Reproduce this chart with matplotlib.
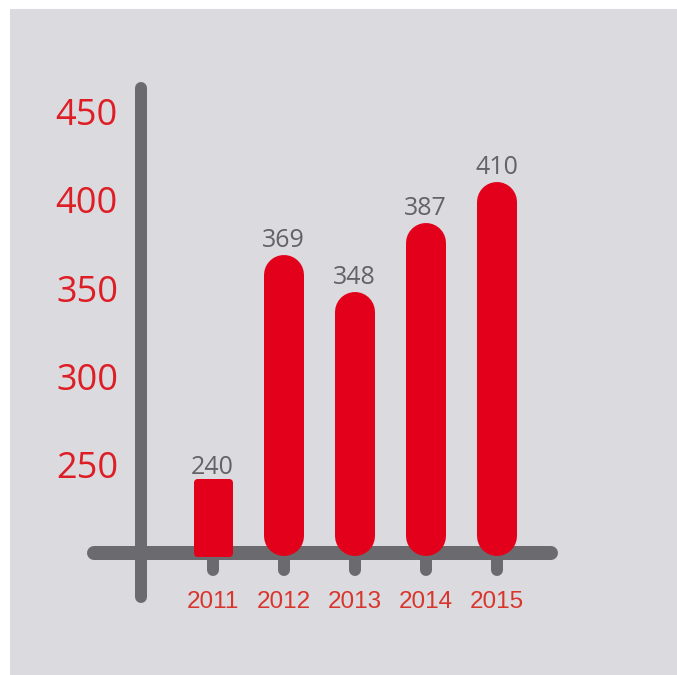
import matplotlib.pyplot as plt
from matplotlib.patches import Rectangle

years = ["2011", "2012", "2013", "2014", "2015"]
values = [240, 369, 348, 387, 410]
y_ticks = [250, 300, 350, 400, 450]
baseline = 200

RED = "#E2001A"
LABEL_RED = "#DD1E24"
YEAR_RED = "#D8352C"
GRAY = "#6B6B6F"
VALUE_GRAY = "#626267"
BG = "#DBDADF"

DPI = 100
fig = plt.figure(figsize=(6.77, 6.75), dpi=DPI, facecolor="white")

# gray panel behind everything (white strip on top and left only)
fig.patches.append(Rectangle((10 / 677, 0), 667 / 677, 666 / 675,
                             transform=fig.transFigure, facecolor=BG,
                             edgecolor="none", zorder=-10))

# axes box = extent of the vertical axis bar (pixels 141..570 x, 82..603 y)
ax = fig.add_axes([141 / 677, (675 - 603) / 675, 429 / 677, 521 / 675])
ax.set_facecolor("none")
px_per_unit = 88.25 / 50
ax.set_ylim(baseline - 50 / px_per_unit, 400 + 118 / px_per_unit)
ax.set_xlim((141 - 212.5) / 71, (570 - 212.5) / 71)

for s in ["top", "right", "left"]:
    ax.spines[s].set_visible(False)
ax.spines["bottom"].set_position(("data", baseline))
ax.spines["bottom"].set_visible(False)

pt = 72 / DPI  # points per pixel

# vertical axis bar
ax.plot([0, 0], [6 / 521, 1 - 6 / 521], transform=ax.transAxes, color=GRAY,
        lw=12 * pt, solid_capstyle="round", clip_on=False, zorder=2)
# horizontal axis bar
ax.plot([(94 - 141) / 429, (551 - 141) / 429], [baseline, baseline],
        transform=ax.get_yaxis_transform(), color=GRAY, lw=14 * pt,
        solid_capstyle="round", clip_on=False, zorder=2)

x = list(range(len(years)))

# little rounded stubs under the axis at each year
for i in x:
    ax.plot([i, i], [baseline, baseline - 17 / px_per_unit], color=GRAY,
            lw=12 * pt, solid_capstyle="round", zorder=2)

bar_w = 40  # px
cap = (bar_w / 2) / px_per_unit
for i, v in zip(x, values):
    if v - baseline < 4 * cap:
        # short bar: flat with slightly rounded corners
        ax.bar(i, v - baseline, bottom=baseline, width=32 / 71, color=RED,
               edgecolor=RED, linewidth=7 * pt, joinstyle="round", zorder=3)
    else:
        ax.plot([i, i], [baseline - 3 / px_per_unit + cap, v - cap], color=RED,
                lw=bar_w * pt, solid_capstyle="round", zorder=3)
    ax.annotate(str(v), (i, v), xytext=(0, 8 * pt), textcoords="offset points",
                ha="center", va="baseline", fontsize=18, family="Open Sans",
                color=VALUE_GRAY)

ax.set_xticks(x, years)
ax.tick_params(axis="x", length=0, pad=38 * pt, labelsize=17.5,
               labelcolor=YEAR_RED)
for lbl in ax.get_xticklabels():
    lbl.set_family("Liberation Sans")

ax.set_yticks(y_ticks)
ax.tick_params(axis="y", length=0, pad=23 * pt, labelsize=26, labelcolor=LABEL_RED)
for lbl in ax.get_yticklabels():
    lbl.set_family("Open Sans")

fig.savefig("out.png", dpi=DPI, facecolor="white")
